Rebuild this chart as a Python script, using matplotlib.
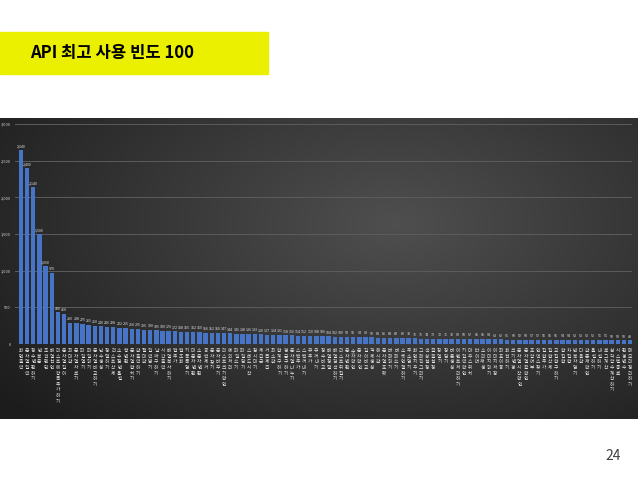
import numpy as np
import matplotlib.pyplot as plt
import matplotlib.patches as mpatches

plt.rcParams['font.family'] = ['Noto Sans CJK KR', 'DejaVu Sans']

# ── Data ──────────────────────────────────────────────
api_names = [
    "화면출력", "문자열입력", "정수변환하기", "반복문", "조건판단", "배열선언",
    "리스트에항목추가하기", "문자열길이", "최대값", "문자열자르기",
    "파일열기", "파일읽기", "문자열비교하기", "난수생성", "정렬하기",
    "리스트삭제", "소수점반올림", "형변환", "문자열합치기", "값출력하기",
    "절대값", "입력받기", "날짜구하기", "시간출력", "배열복사하기",
    "맵추가", "맵조회", "키목록얻기", "대문자변환", "소문자변환",
    "공백제거", "문자찾기", "문자바꾸기", "리스트크기확인", "예외처리",
    "파일쓰기", "파일닫기", "스레드시작", "잠시대기", "제곱근",
    "거듭제곱", "최소값", "합계구하기", "평균구하기", "문자열나누기",
    "스택추가", "스택꺼내기", "큐추가", "큐꺼내기", "정수비교",
    "배열정렬", "배열검색하기", "리스트뒤집기", "문자변환", "숫자확인",
    "문자확인", "길이비교", "객체생성", "해시값", "문자열포맷",
    "버퍼읽기", "버퍼쓰기", "소켓연결하기", "주소얻기", "화면지우기",
    "그래픽그리기", "색상설정", "글꼴설정", "창열기", "창닫기",
    "버튼생성", "이벤트처리하기", "키입력확인", "마우스위치", "타이머",
    "소리재생", "이미지읽기", "이미지저장", "좌표이동", "회전하기",
    "크기변경", "문자열시작확인", "문자열끝확인", "포함여부", "인덱스찾기",
    "집합추가", "집합삭제", "교집합구하기", "합집합", "차집합",
    "반복자얻기", "다음값", "값존재확인", "올림하기", "내림하기",
    "로그계산", "삼각함수계산하기", "시스템종료", "환경변수", "메모리정리하기",
]
usage_counts = [
    2640, 2400, 2140, 1500, 1060, 970, 430, 410, 290, 288,
    275, 265, 250, 240, 236, 228, 222, 215, 210, 205,
    196, 190, 185, 180, 176, 172, 168, 165, 162, 160,
    156, 152, 150, 147, 144, 141, 138, 136, 133, 130,
    127, 124, 121, 118, 116, 114, 112, 110, 108, 106,
    104, 102, 100, 98, 96, 94, 92, 90, 88, 86,
    84, 82, 80, 78, 76, 75, 74, 73, 72, 71,
    70, 69, 68, 67, 66, 65, 64, 63, 62, 61,
    60, 59, 58, 57, 57, 56, 55, 55, 54, 54,
    53, 53, 52, 52, 51, 51, 50, 50, 50, 49,
]
y_ticks = [0, 500, 1000, 1500, 2000, 2500, 3000]

W, H = 638, 479
fig = plt.figure(figsize=(W / 100, H / 100), dpi=100)
fig.patch.set_facecolor('white')

# ── Title bar ─────────────────────────────────────────
fig.patches.append(mpatches.Rectangle((0, 1 - 74 / H), 268 / W, 42 / H,
                                      transform=fig.transFigure,
                                      color='#EBEF00', zorder=1))
fig.text(30 / W, 1 - 53 / H, "API 최고 사용 빈도 100", fontsize=12,
         fontweight='bold', color='black', va='center', ha='left')
fig.text(621 / W, 1 - 456 / H, "24", fontsize=10, color='#404040',
         ha='right', va='center')

# ── Dark gradient panel ───────────────────────────────
bg = fig.add_axes([0, 1 - 419 / H, 1, 301 / H])
gx, gy = np.meshgrid(np.linspace(0, 1, 320), np.linspace(0, 1, 160))
r = np.sqrt(((gx - 0.62) / 0.75) ** 2 + ((gy - 0.35) / 0.9) ** 2)
shade = np.clip(0.31 - 0.19 * r, 0.11, 0.31)
bg.imshow(np.dstack([shade] * 3), aspect='auto', extent=[0, 1, 0, 1],
          interpolation='bilinear')
bg.set_axis_off()

# ── Bar chart ─────────────────────────────────────────
ax = fig.add_axes([15 / W, 1 - 344 / H, 617 / W, 220 / H])
ax.set_facecolor('none')
x = np.arange(len(usage_counts))
ax.bar(x, usage_counts, width=0.72, color='#4674C6', zorder=3)
ax.set_xlim(-0.97, 99.3)
ax.set_ylim(0, 3000)
ax.set_yticks(y_ticks)
ax.set_yticklabels([f"{t:,}" for t in y_ticks], fontsize=2.8, color='#d8d8d8')
ax.tick_params(axis='y', length=0, pad=3)
ax.grid(axis='y', color='#5c5c5c', linewidth=0.7, zorder=0)
for s in ax.spines.values():
    s.set_visible(False)

for xi, v in zip(x, usage_counts):
    ax.text(xi, v + 25, f"{v:,}", fontsize=2.6, color='#e0e0e0',
            ha='center', va='bottom')

ax.set_xticks(x)
ax.set_xticklabels(["\n".join(n) for n in api_names], fontsize=3.4,
                   color='#e6e6e6', linespacing=1.15, va='top')
ax.tick_params(axis='x', length=0, pad=3)

fig.savefig('out.png', dpi=100, facecolor='white')
